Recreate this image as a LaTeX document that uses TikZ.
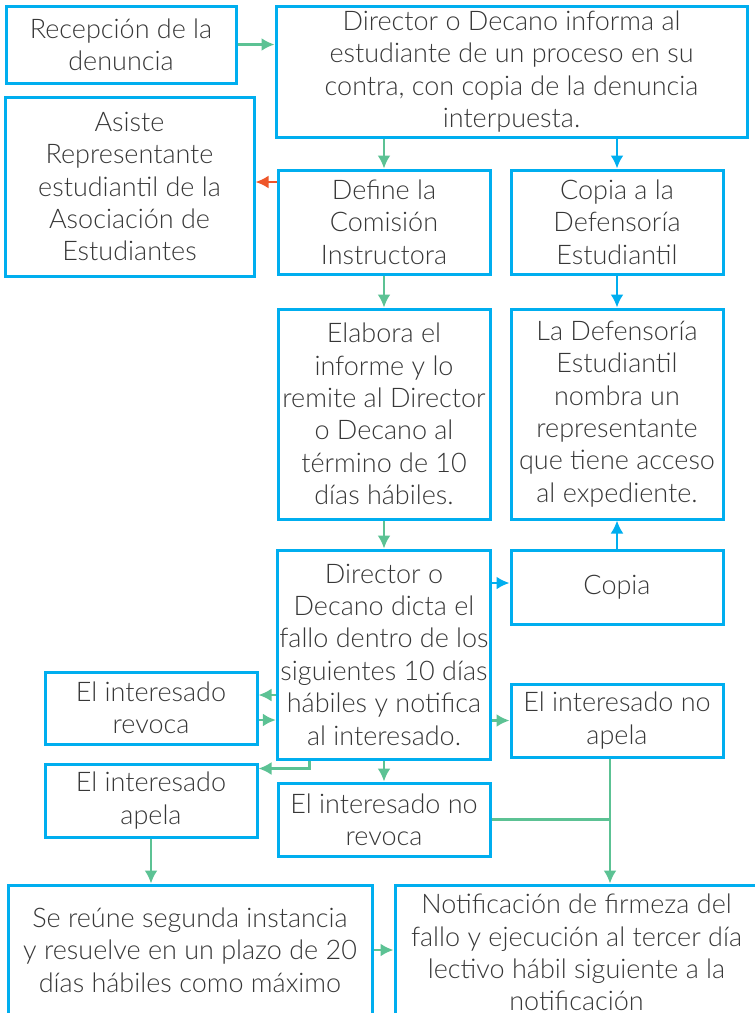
\documentclass[tikz,border=0pt]{standalone}
\usepackage{fontspec}
\setmainfont{Lato}[UprightFont={* Light}]
\usetikzlibrary{positioning,calc,arrows.meta}

\definecolor{boxblue}{RGB}{0,174,239}
\definecolor{flowgreen}{RGB}{92,194,148}
\definecolor{flowred}{RGB}{238,86,42}
\definecolor{textgray}{RGB}{55,55,55}

\begin{document}
\begin{tikzpicture}
                    [x=0.5pt,y=-0.5pt,>={Latex[length=6.5pt,width=6.5pt]},
                     box/.style={draw=boxblue,line width=1.5pt,align=center,inner sep=1pt,text=textgray,
                                 font=\fontsize{13.5}{16.2}\selectfont},
                     gline/.style={draw=flowgreen,line width=1.2pt,->},
                     bline/.style={draw=boxblue,line width=1.2pt,->},
                     rline/.style={draw=flowred,line width=1.2pt,->}]

                \useasboundingbox (0,0) rectangle (755,1013);

                % top row
                \node[box,minimum width=115pt,minimum height=38.5pt] (recep) at (121,44.5) {Recepción de la\\denuncia};
                \node[box,minimum width=235.5pt,minimum height=65.5pt] (informa) at (511.5,71.5)
                    {Director o Decano informa al\\estudiante de un proceso en su\\contra, con copia de la denuncia\\interpuesta.};
                \node[box,minimum width=124.5pt,minimum height=89.5pt] (asiste) at (129.5,186.5)
                    {Asiste\\Representante\\estudiantil de la\\Asociación de\\Estudiantes};

                % middle columns
                \node[box,minimum width=106pt,minimum height=52pt] (define) at (384,222) {Define la\\Comisión\\Instructora};
                \node[box,minimum width=106pt,minimum height=52pt] (copia1) at (617,222) {Copia a la\\Defensoría\\Estudiantil};
                \node[box,minimum width=106pt,minimum height=105pt] (elabora) at (384,414)
                    {Elabora el\\informe y lo\\remite al Director\\o Decano al\\término de 10\\días hábiles.};
                \node[box,minimum width=106pt,minimum height=105pt] (defens) at (617,414)
                    {La Defensoría\\Estudiantil\\nombra un\\representante\\que tiene acceso\\al expediente.};
                \node[box,minimum width=106pt,minimum height=104.5pt] (dicta) at (384,654.5)
                    {Director o\\Decano dicta el\\fallo dentro de los\\siguientes 10 días\\hábiles y notifica\\al interesado.};
                \node[box,minimum width=106pt,minimum height=37pt] (copia2) at (617,587) {Copia};

                % outcomes
                \node[box,minimum width=106pt,minimum height=36pt] (revoca) at (151,708) {El interesado\\revoca};
                \node[box,minimum width=106pt,minimum height=36.5pt] (noapela) at (617,720.5) {El interesado no\\apela};
                \node[box,minimum width=106pt,minimum height=36.5pt] (apela) at (151,800.5) {El interesado\\apela};
                \node[box,minimum width=106pt,minimum height=36.5pt] (norevoca) at (384,819.5) {El interesado no\\revoca};

                % bottom row
                \node[box,minimum width=182pt,minimum height=65pt] (reune) at (190,950)
                    {Se reúne segunda instancia\\y resuelve en un plazo de 20\\días hábiles como máximo};
                \node[box,minimum width=181.5pt,minimum height=67.5pt] (notif) at (576.5,952.5)
                    {Notificación de firmeza del\\fallo y ejecución al tercer día\\lectivo hábil siguiente a la\\notificación};

                % connectors
                \draw[gline] (recep.east) -- (recep.east -| informa.west);
                \draw[gline] (define.north |- informa.south) -- (define.north);
                \draw[bline] (copia1.north |- informa.south) -- (copia1.north);
                \draw[rline] ([yshift=20pt]define.west) -- ([yshift=20pt]define.west -| asiste.east);
                \draw[gline] (define.south) -- (elabora.north);
                \draw[bline] (copia1.south) -- (defens.north);
                \draw[gline] (elabora.south) -- (dicta.north);
                \draw[bline] ([yshift=2pt]copia2.west -| dicta.east) -- ([yshift=2pt]copia2.west);
                \draw[bline] (copia2.north) -- (defens.south);
                \draw[gline] ([yshift=6.5pt]revoca.east -| dicta.west) -- ([yshift=6.5pt]revoca.east);
                \draw[gline] ([yshift=-6pt]revoca.east) -- ([yshift=-6pt]revoca.east -| dicta.west);
                \draw[gline] (dicta.east |- noapela.west) -- (noapela.west);
                \draw[gline] ($(dicta.south west)!0.155!(dicta.south east)$) |- ([yshift=16pt]apela.east);
                \draw[gline] (dicta.south) -- (norevoca.north);

                \coordinate (join) at ([xshift=-3.5pt]noapela.south);
                \draw[gline] (join) -- (join |- notif.north);
                \draw[gline,-] (norevoca.east) -- (norevoca.east -| join);
                \draw[gline] (apela.south) -- (apela.south |- reune.north);
                \draw[gline] (reune.east) -- (reune.east -| notif.west);

                \end{tikzpicture}
\end{document}
